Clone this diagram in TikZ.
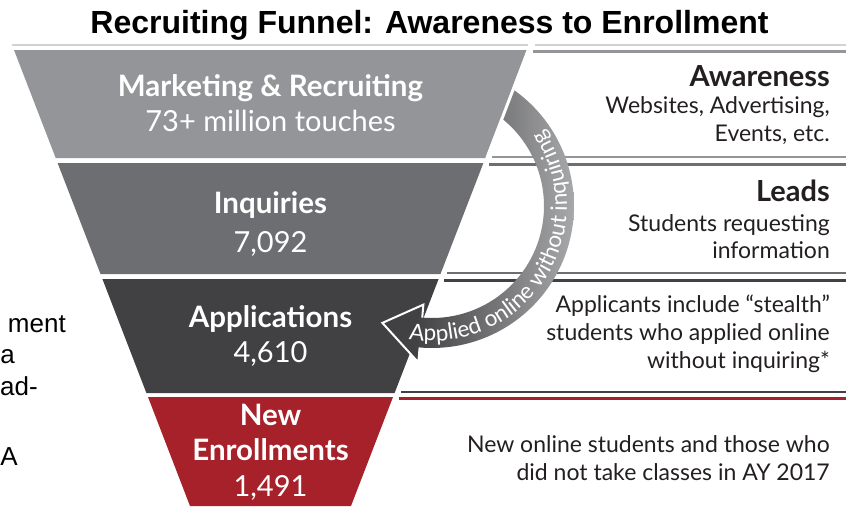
\documentclass[tikz,border=0pt]{standalone}
\usepackage{fontspec}
\setmainfont{Lato}
\newfontfamily\arialfont{Liberation Sans}
\usetikzlibrary{decorations.text}

\definecolor{bandA}{HTML}{939598}
\definecolor{bandB}{HTML}{6D6E71}
\definecolor{bandC}{HTML}{414042}
\definecolor{bandD}{HTML}{A6212A}
\definecolor{toprule}{HTML}{D2D2D2}
\definecolor{ink}{HTML}{231F20}
\definecolor{ribbonlight}{HTML}{A7A8AA}
\definecolor{ribbonmid}{HTML}{8E8F91}

\begin{document}
\begin{tikzpicture}[x=1pt,y=-1pt,
  funnelhead/.style={text=white, font=\bfseries\fontsize{29.5}{29.5}\selectfont, anchor=base, inner sep=0pt},
  funnelnum/.style={text=white, font=\fontsize{29}{29}\selectfont, anchor=base, inner sep=0pt},
  sidehead/.style={text=ink, font=\bfseries\fontsize{29}{29}\selectfont, anchor=base east, inner sep=0pt},
  sidetext/.style={text=ink, font=\fontsize{23}{23}\selectfont, anchor=base east, inner sep=0pt},
  cuttext/.style={text=black, font=\arialfont\fontsize{26}{26}\selectfont, anchor=base east, inner sep=0pt},
]
\useasboundingbox (0,0) rectangle (846,506);

% title
\node[font=\arialfont\bfseries\fontsize{32}{32}\selectfont, anchor=base, inner sep=0pt]
  (title) at (429.5,33) {Recruiting Funnel: Awareness to Enrollment};

% thin rule under the title
\draw[toprule, line width=1.5] (12,45) -- (528,45);
\draw[toprule, line width=1.5] (535,45) -- (846,45);

% horizontal rules bounding each stage on the right
\draw[bandA, line width=3]   (532.6,51)    -- (846,51);
\draw[bandA, line width=2.5] (491.7,157)   -- (846,157);
\draw[bandB, line width=3]   (488.8,164.5) -- (846,164.5);
\draw[bandB, line width=2.5] (446.9,273)   -- (846,273);
\draw[bandC, line width=3]   (444.2,280)   -- (846,280);
\draw[bandC, line width=2.5] (401,392)     -- (846,392);
\draw[bandD, line width=3]   (398.7,398)   -- (846,398);

% lower funnel stages
\fill[bandB] (57.6,163) -- (483.4,163) -- (440.5,274) -- (100.5,274) -- cycle;
\fill[bandC] (102.4,279) -- (438.6,279) -- (394.6,393) -- (146.4,393) -- cycle;
\fill[bandD] (148.0,397) -- (393.0,397) -- (351.0,506) -- (190.0,506) -- cycle;

% curved arrow with its label
\begin{scope}[shift={(432,206)}]
  \filldraw[fill=bandC, draw=white, line width=2, line join=miter]
    (95:99) -- (113:127) -- (95:157) -- cycle;
  \shade[left color=bandC, middle color=ribbonmid, right color=ribbonlight]
    plot[domain=-62:97, samples=90] (\x:142) -- plot[domain=97:-62, samples=90] (\x:112) -- cycle;
  \path[decorate, decoration={text along path, text align=left,
      text={|\fontsize{22.5}{22.5}\selectfont\color{white}|Applied online without inquiring}}]
    plot[domain=100:-75, samples=140] (\x:135);
\end{scope}

% top funnel stage, laid over the start of the arrow
\fill[bandA] (14,50) -- (527,50) -- (485.3,158) -- (55.7,158) -- cycle;
\draw[white, line width=3] (529,48) -- (487.3,157);

% funnel labels
\node[funnelhead] (mkt)  at (270.5,96)  {Marketing \& Recruiting};
\node[funnelnum]  (mktn) at (270.5,131) {73+ million touches};
\node[funnelhead] (inq)  at (270.5,213) {Inquiries};
\node[funnelnum]  (inqn) at (270.5,252) {7,092};
\node[funnelhead] (app)  at (270.5,327) {Applications};
\node[funnelnum]  (appn) at (270.5,362) {4,610};
\node[funnelhead] (new)  at (270.5,425) {New};
\node[funnelhead] (enr)  at (270.5,460) {Enrollments};
\node[funnelnum]  (enrn) at (270.5,496) {1,491};

% stage descriptions
\node[sidehead] (aw)  at (830,86)  {Awareness};
\node[sidetext] (aw1) at (830,113) {Websites, Advertising,};
\node[sidetext] (aw2) at (830,141) {Events, etc.};
\node[sidehead] (ld)  at (830,201) {Leads};
\node[sidetext] (ld1) at (830,231) {Students requesting};
\node[sidetext] (ld2) at (830,258) {information};
\node[sidetext] (ap1) at (830,312) {Applicants include “stealth”};
\node[sidetext] (ap2) at (830,340) {students who applied online};
\node[sidetext] (ap3) at (830,368) {without inquiring*};
\node[sidetext] (ne1) at (830,452) {New online students and those who};
\node[sidetext] (ne2) at (830,480) {did not take classes in AY 2017};

% text running off the left edge
\node[cuttext] (cutA) at (66,332) {ment};
\node[cuttext] (cutB) at (15,363) {a};
\node[cuttext] (cutC) at (38,395) {ad-};
\node[cuttext] (cutD) at (18,465) {A};
\end{tikzpicture}
\end{document}
